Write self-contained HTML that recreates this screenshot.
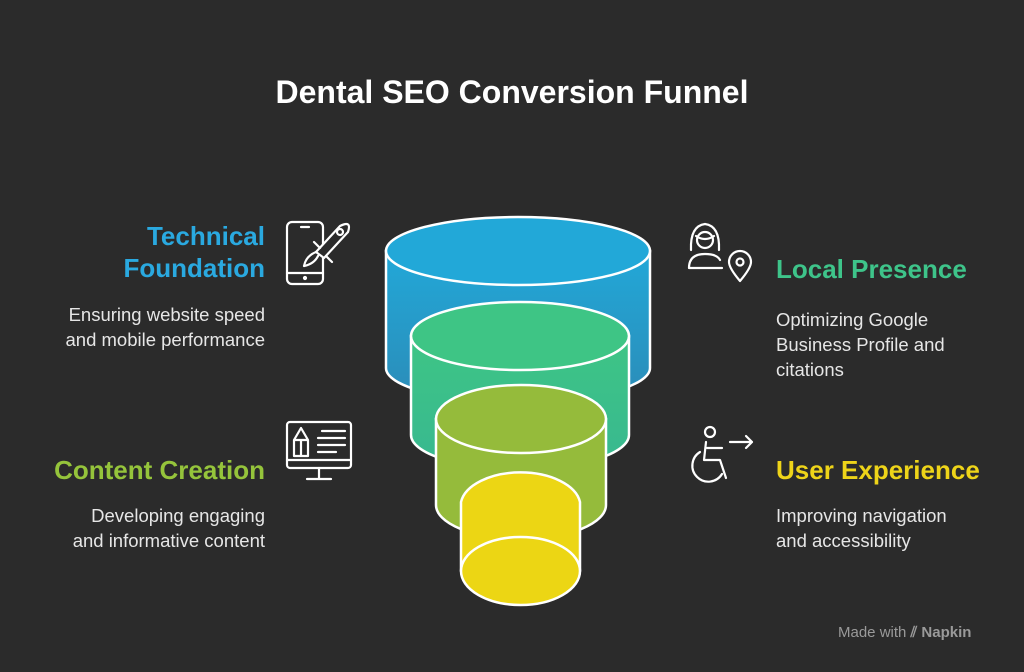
<!DOCTYPE html>
<html><head><style>
body{margin:0;width:1024px;height:672px;background:#2b2b2b;overflow:hidden;font-family:"Liberation Sans",sans-serif;position:relative}
.t{position:absolute;font-weight:bold;font-size:26px;line-height:32px}
.d{position:absolute;font-size:18.5px;line-height:25px;color:#e6e6e6}
.r{text-align:right}
</style></head><body>
<div style="position:absolute;left:0;width:1024px;top:74px;text-align:center;color:#fff;font-weight:bold;font-size:32px">Dental SEO Conversion Funnel</div>

<div class="t r" style="right:759px;top:220px;color:#2aa9e0">Technical<br>Foundation</div>
<div class="d r" style="right:759px;top:302px">Ensuring website speed<br>and mobile performance</div>
<div class="t r" style="right:759px;top:454px;color:#95c43b">Content Creation</div>
<div class="d r" style="right:759px;top:503px">Developing engaging<br>and informative content</div>

<div class="t" style="left:776px;top:253px;color:#3ec48a">Local Presence</div>
<div class="d" style="left:776px;top:307px">Optimizing Google<br>Business Profile and<br>citations</div>
<div class="t" style="left:776px;top:454px;color:#eed419">User Experience</div>
<div class="d" style="left:776px;top:503px">Improving navigation<br>and accessibility</div>

<div style="position:absolute;left:838px;top:624px;color:#9a9a9a;font-size:15px">Made with <span style="font-weight:bold">⫽ Napkin</span></div>

<svg width="1024" height="672" style="position:absolute;left:0;top:0">
<defs>
<linearGradient id="gb" x1="0" y1="0" x2="0" y2="1"><stop offset="0" stop-color="#22a8d8"/><stop offset="1" stop-color="#2b8cb8"/></linearGradient>
<linearGradient id="gg" x1="0" y1="0" x2="0" y2="1"><stop offset="0" stop-color="#3ec585"/><stop offset="1" stop-color="#38b890"/></linearGradient>
</defs>
<g stroke="#fff" stroke-width="2.5">
<path d="M386 251 V368 A132 34 0 0 0 650 368 V251 Z" fill="url(#gb)"/>
<ellipse cx="518" cy="251" rx="132" ry="34" fill="#22a8d8"/>
<path d="M411 336 V435 A109 34 0 0 0 629 435 V336 Z" fill="url(#gg)"/>
<ellipse cx="520" cy="336" rx="109" ry="34" fill="#3ec585"/>
<path d="M436 419 V505 A85 34 0 0 0 606 505 V419 Z" fill="#95bb3b"/>
<ellipse cx="521" cy="419" rx="85" ry="34" fill="#95bb3b"/>
<path d="M461 502 A60 34 0 0 1 580 502 V571 A60 34 0 0 1 461 571 Z" fill="#ecd614"/>
<ellipse cx="520.5" cy="571" rx="59.5" ry="34" fill="#ecd614"/>
</g>
<g stroke="#fff" stroke-width="2.2" fill="none" stroke-linecap="round" stroke-linejoin="round">
<rect x="287" y="222" width="36" height="62" rx="5"/>
<line x1="287" y1="273" x2="323" y2="273"/><circle cx="305" cy="278" r="1" fill="#fff"/>
<line x1="301" y1="227" x2="309" y2="227"/>
<path d="M316 252 L340 226 Q352 220 348 232 L324 258 Z" fill="#2b2b2b"/>
<circle cx="340" cy="232" r="3"/>
<path d="M316 252 Q306 256 304 266 Q314 264 318 256"/>
<path d="M320 248 L314 242 M326 256 L332 262"/>
<rect x="287" y="422" width="64" height="46" rx="3"/>
<line x1="287" y1="460" x2="351" y2="460"/>
<line x1="319" y1="468" x2="319" y2="478"/><line x1="307" y1="479" x2="331" y2="479"/>
<path d="M294 456 V440 L301 428 L308 440 V456 Z M294 440 H308 M301 440 V456"/>
<line x1="322" y1="431" x2="345" y2="431"/><line x1="318" y1="438" x2="345" y2="438"/><line x1="318" y1="445" x2="345" y2="445"/><line x1="318" y1="452" x2="336" y2="452"/>
<path d="M691 250 Q690 226 705 224 Q720 226 719 250"/>
<path d="M696 236 Q705 242 714 236"/>
<circle cx="705" cy="240" r="8"/>
<path d="M689 268 Q689 254 705 254 Q717 254 720 260 M689 268 H722"/>
<path d="M740 281 Q729 268 729 262 A11 11 0 0 1 751 262 Q751 268 740 281 Z"/><circle cx="740" cy="262" r="3.5"/>
<circle cx="710" cy="432" r="5"/>
<path d="M706 442 L704 460 H720 L726 478"/>
<path d="M707 448 H722"/>
<path d="M700 452 A16 16 0 1 0 722 474"/>
<path d="M730 442 H752 M746 436 L752 442 L746 448"/>
</g>
</svg>
</body></html>
